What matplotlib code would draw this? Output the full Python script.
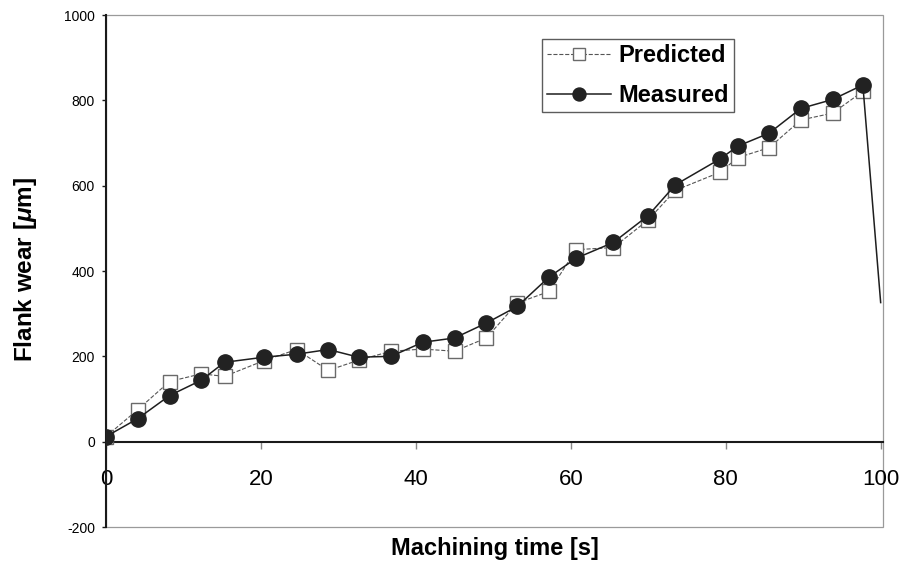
import matplotlib
matplotlib.use("Agg")
import matplotlib.pyplot as plt
from matplotlib.patches import Rectangle

plt.rcParams['font.family'] = ['Liberation Sans', 'DejaVu Sans']
plt.rcParams['mathtext.fontset'] = 'custom'
plt.rcParams['mathtext.it'] = 'Liberation Sans:italic:bold'
plt.rcParams['mathtext.rm'] = 'Liberation Sans:bold'

# machining time [s] of each measurement
time_s = [0, 4.1, 8.2, 12.3, 15.3, 20.4, 24.6, 28.7, 32.6, 36.8,
          40.9, 45.0, 49.1, 53.1, 57.2, 60.7, 65.5, 70.0, 73.5,
          79.2, 81.6, 85.6, 89.7, 93.8, 97.7]

# flank wear [um]
predicted = [12, 75, 141, 159, 153, 190, 216, 167, 191, 212,
             217, 212, 243, 325, 352, 450, 455, 520, 589,
             631, 666, 689, 754, 770, 821]
measured = [12, 54, 108, 144, 186, 198, 205, 216, 198, 200,
            233, 243, 278, 317, 386, 430, 467, 530, 602,
            662, 693, 723, 781, 802, 836]

# where the measured curve leaves the chart at the right edge
end_time = 100
end_wear = 326

x_ticks = [0, 20, 40, 60, 80, 100]
y_ticks = [-200, 0, 200, 400, 600, 800, 1000]

fig = plt.figure(figsize=(9.06, 5.64), dpi=100)
ax = fig.add_axes([0.117, 0.0656, 0.8576, 0.9078])

ax.plot(time_s, predicted, linestyle='--', color='#555555', linewidth=0.8,
        marker='s', markersize=10, markerfacecolor='white',
        markeredgecolor='#6a6a6a', markeredgewidth=1.0, label='Predicted', zorder=3)
ax.plot(time_s + [end_time], measured + [end_wear], linestyle='-', color='#1e1e1e',
        linewidth=1.1, marker='o', markersize=11, markerfacecolor='#222222',
        markeredgecolor='#222222', markevery=list(range(len(time_s))),
        label='Measured', zorder=4)

ax.set_xlim(0, 100.3)
ax.set_ylim(-200, 1000)

# axes: left line and the zero line in black, outer frame in light gray
for side in ['top', 'right']:
    ax.spines[side].set_visible(False)
ax.spines['left'].set_linewidth(1.5)
ax.spines['left'].set_color('#1a1a1a')
ax.spines['bottom'].set_position(('data', 0))
ax.spines['bottom'].set_linewidth(1.5)
ax.spines['bottom'].set_color('#1a1a1a')
ax.add_patch(Rectangle((0, 0), 1, 1, transform=ax.transAxes, fill=False,
                       edgecolor='#9a9a9a', linewidth=0.9, zorder=1, clip_on=False))

ax.set_xticks(x_ticks)
ax.set_xticklabels([str(t) for t in x_ticks], fontsize=16)
ax.tick_params(axis='x', direction='out', length=5, width=1, color='#888888', pad=15)
ax.set_yticks(y_ticks)
ax.set_yticklabels([str(t) for t in y_ticks], fontsize=10)
ax.tick_params(axis='y', direction='out', length=3, width=1, color='#1a1a1a', pad=5)

ax.set_xlabel('Machining time [s]', fontsize=17, fontweight='bold')
ax.xaxis.set_label_coords(0.50, -0.02)
ax.set_ylabel(r'Flank wear [$\mu$m]', fontsize=17.5, fontweight='bold')
ax.yaxis.set_label_coords(-0.086, 0.504)

leg = ax.legend(loc='upper left', bbox_to_anchor=(0.561, 0.953),
                prop={'weight': 'bold', 'size': 17}, frameon=True, fancybox=False,
                handlelength=2.7, handletextpad=0.3, labelspacing=0.72,
                borderpad=0.22, borderaxespad=0, markerscale=0.85)
leg.get_frame().set_edgecolor('#333333')
leg.get_frame().set_linewidth(1.0)

fig.savefig('out.png', dpi=100)
